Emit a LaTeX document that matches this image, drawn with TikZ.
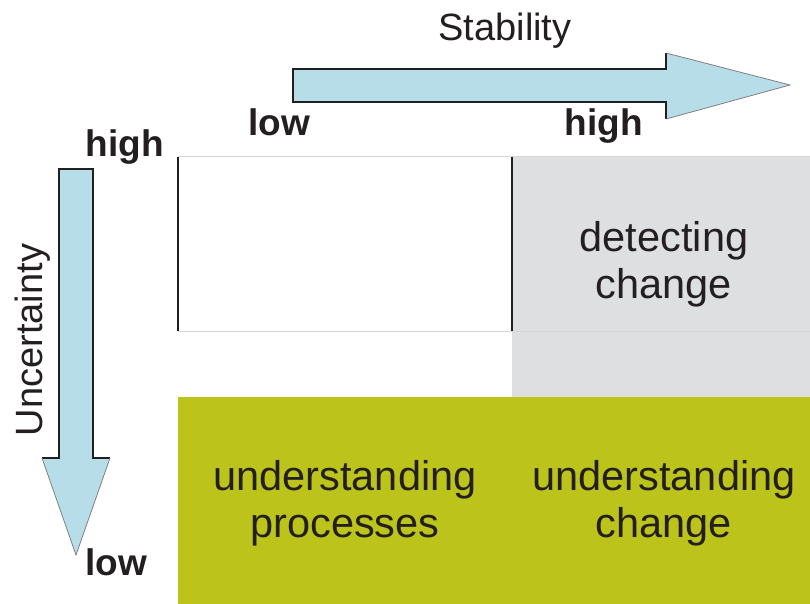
\documentclass[tikz,border=0pt]{standalone}
\usepackage{fontspec}
\setmainfont{Liberation Sans}
\definecolor{arrowblue}{HTML}{B7DDE8}
\definecolor{cellgray}{HTML}{DEDFE1}
\definecolor{cellgreen}{HTML}{BCC31A}
\definecolor{gridgray}{HTML}{D6D6D6}
\definecolor{txt}{HTML}{231F20}
\tikzset{
  axislabel/.style={font=\fontsize{38}{44}\selectfont, text=txt, inner sep=0pt, anchor=base},
  endlabel/.style={font=\fontsize{37}{44}\selectfont\bfseries, text=txt, inner sep=0pt, anchor=base},
  celltext/.style={font=\fontsize{41.5}{47}\selectfont, text=txt, inner sep=0pt, align=center, anchor=base},
  blackedge/.style={draw=txt, line width=2pt},
  grayedge/.style={draw=gridgray, line width=1pt},
  headedge/.style={draw=gray, line width=0.8pt}
}
\begin{document}
\begin{tikzpicture}[x=1pt,y=-1pt]
\useasboundingbox (0,0) rectangle (810,604);
% cells
\fill[cellgray] (512,157) rectangle (810,397);
\fill[cellgreen] (178,397) rectangle (810,604);
\draw[grayedge] (178,157) -- (810,157);
\draw[grayedge] (178,331) -- (810,331);
\draw[blackedge] (178,157) -- (178,331);
\draw[blackedge] (512,157) -- (512,331);
% horizontal arrow
\fill[arrowblue] (293,69) -- (666,69) -- (666,53) -- (790,85) -- (666,119) -- (666,102) -- (293,102) -- cycle;
\draw[blackedge] (666,53) -- (666,69) -- (293,69) -- (293,102) -- (666,102) -- (666,119);
\draw[headedge] (666,53) -- (790,85) -- (666,119);
% vertical arrow
\fill[arrowblue] (59,169) -- (93,169) -- (93,458) -- (110,458) -- (76,555) -- (42,458) -- (59,458) -- cycle;
\draw[blackedge] (42,458) -- (59,458) -- (59,169) -- (93,169) -- (93,458) -- (110,458);
\draw[headedge] (42,458) -- (76,555) -- (110,458);
% labels
\node[axislabel] (stab) at (505,41) {Stability};
\node[endlabel] (slow) at (279,136) {low};
\node[endlabel] (shigh) at (604,136) {high};
\node[endlabel] (uhigh) at (125,157) {high};
\node[endlabel] (ulow) at (116,575) {low};
\node[axislabel, rotate=90] (unc) at (42,340) {Uncertainty};
% cell texts
\node[celltext] (det) at (664,298) {detecting\\change};
\node[celltext] (up) at (345,537) {understanding\\processes};
\node[celltext] (uc) at (664,537) {understanding\\change};
\end{tikzpicture}
\end{document}
